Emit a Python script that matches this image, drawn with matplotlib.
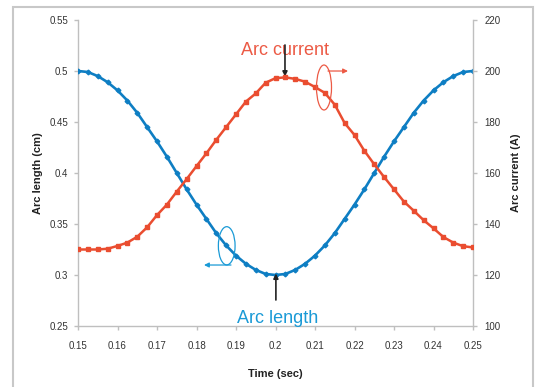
import matplotlib
matplotlib.use("Agg")
import matplotlib.pyplot as plt
from matplotlib.patches import Ellipse, Rectangle
import numpy as np

plt.rcParams['font.family'] = ['Liberation Sans', 'DejaVu Sans']

# ---- data ----
time_sec = [0.15, 0.1525, 0.155, 0.1575, 0.16, 0.1625, 0.165, 0.1675, 0.17, 0.1725,
            0.175, 0.1775, 0.18, 0.1825, 0.185, 0.1875, 0.19, 0.1925, 0.195, 0.1975,
            0.2, 0.2025, 0.205, 0.2075, 0.21, 0.2125, 0.215, 0.2175, 0.22, 0.2225,
            0.225, 0.2275, 0.23, 0.2325, 0.235, 0.2375, 0.24, 0.2425, 0.245, 0.2475, 0.25]

arc_length_cm = [0.500, 0.499, 0.495, 0.489, 0.481, 0.471, 0.459, 0.445, 0.431, 0.416,
                 0.400, 0.384, 0.369, 0.355, 0.341, 0.329, 0.319, 0.311, 0.305, 0.301,
                 0.300, 0.301, 0.305, 0.311, 0.319, 0.329, 0.341, 0.355, 0.369, 0.384,
                 0.400, 0.416, 0.431, 0.445, 0.459, 0.471, 0.481, 0.489, 0.495, 0.499, 0.500]

arc_current_A = [130.0, 130.0, 130.0, 130.3, 131.4, 132.7, 135.0, 138.7, 143.5, 147.6,
                 152.7, 157.6, 162.7, 167.7, 173.0, 178.0, 183.0, 188.0, 191.2, 195.4,
                 197.2, 197.5, 196.9, 195.8, 193.7, 191.4, 186.8, 179.6, 174.9, 168.7,
                 163.4, 158.4, 153.6, 148.8, 145.2, 141.5, 138.3, 134.9, 132.7, 131.3, 130.8]

x_ticks = [0.15, 0.16, 0.17, 0.18, 0.19, 0.2, 0.21, 0.22, 0.23, 0.24, 0.25]
x_ticklabels = ['0.15', '0.16', '0.17', '0.18', '0.19', '0.2', '0.21', '0.22', '0.23', '0.24', '0.25']
left_ticks = [0.25, 0.3, 0.35, 0.4, 0.45, 0.5, 0.55]
left_ticklabels = ['0.25', '0.3', '0.35', '0.4', '0.45', '0.5', '0.55']
right_ticks = [100, 120, 140, 160, 180, 200, 220]

BLUE = '#0E7EC3'
BLUE_TXT = '#1A9AD6'
RED = '#EA4D30'
RED_TXT = '#EC5A45'
GRID = '#BFBFBF'

fig = plt.figure(figsize=(5.35, 3.87), dpi=100)
fig.patch.set_facecolor('white')
fig.patches.append(Rectangle((13/535, -0.02), 520/535, 1 - 7/387 + 0.02,
                             transform=fig.transFigure, fill=False,
                             edgecolor='#C8C8C8', linewidth=1.5))

ax = fig.add_axes([78/535, 1 - 326/387, 395/535, 306/387])
ax2 = ax.twinx()

ax.plot(time_sec, arc_length_cm, color=BLUE, lw=1.9, marker='D', ms=2.4,
        mfc=BLUE, mec=BLUE, zorder=3)
ax2.plot(time_sec, arc_current_A, color=RED, lw=1.8, marker='s', ms=3.4,
         mfc=RED, mec=RED, zorder=3)

ax.set_xlim(0.15, 0.25)
ax.set_ylim(0.25, 0.55)
ax2.set_ylim(100, 220)
ax.set_xticks(x_ticks)
ax.set_xticklabels(x_ticklabels)
ax.set_yticks(left_ticks)
ax.set_yticklabels(left_ticklabels)
ax2.set_yticks(right_ticks)

for a in (ax, ax2):
    a.spines['top'].set_visible(False)
    for s in ('left', 'right', 'bottom'):
        a.spines[s].set_color(GRID)
        a.spines[s].set_linewidth(1.0)
    a.tick_params(colors=GRID, labelcolor='#333333', labelsize=7, length=3, width=1.0)
ax.spines['right'].set_visible(False)
ax2.spines['left'].set_visible(False)
ax2.spines['bottom'].set_visible(False)
ax.tick_params(axis='x', pad=8)
ax.tick_params(axis='y', pad=4)
ax2.tick_params(axis='y', pad=5)

ax.set_xlabel('Time (sec)', fontsize=8, fontweight='bold', color='#222222', labelpad=13)
ax.set_ylabel('Arc length (cm)', fontsize=8, fontweight='bold', color='#222222', labelpad=5)
ax2.set_ylabel('Arc current (A)', fontsize=8, fontweight='bold', color='#222222', labelpad=8)

# annotation texts
ax.text(0.2025, 0.5157, 'Arc current', color=RED_TXT, fontsize=13, ha='center', va='baseline')
ax.text(0.2005, 0.2527, 'Arc length', color=BLUE_TXT, fontsize=13, ha='center', va='baseline')

# black arrows pointing at peak / minimum
ax.annotate('', xy=(0.2024, 0.4945), xytext=(0.2024, 0.5255),
            arrowprops=dict(arrowstyle='-|>', color='#222222', lw=1.2, mutation_scale=7,
                            shrinkA=0, shrinkB=0), zorder=5)
ax.annotate('', xy=(0.2001, 0.3015), xytext=(0.2001, 0.2755),
            arrowprops=dict(arrowstyle='-|>', color='#222222', lw=1.2, mutation_scale=7,
                            shrinkA=0, shrinkB=0), zorder=5)

# ellipses with axis indicator arrows
ax2.add_patch(Ellipse((0.6228, 0.7794), 0.038, 0.147, transform=ax2.transAxes,
                      fill=False, edgecolor=RED_TXT, lw=0.9, zorder=6))
ax2.annotate('', xy=(0.6835, 0.8333), xytext=(0.6329, 0.8333),
             xycoords='axes fraction', textcoords='axes fraction',
             arrowprops=dict(arrowstyle='-|>', color=RED_TXT, lw=0.9, mutation_scale=7,
                             shrinkA=0, shrinkB=0), zorder=6)
ax2.add_patch(Ellipse((0.3765, 0.2621), 0.0423, 0.125, transform=ax2.transAxes,
                      fill=False, edgecolor=BLUE_TXT, lw=0.9, zorder=6))
ax2.annotate('', xy=(0.319, 0.1993), xytext=(0.3873, 0.1993),
             xycoords='axes fraction', textcoords='axes fraction',
             arrowprops=dict(arrowstyle='-|>', color=BLUE_TXT, lw=0.9, mutation_scale=7,
                             shrinkA=0, shrinkB=0), zorder=6)

fig.savefig('out.png', dpi=100)
